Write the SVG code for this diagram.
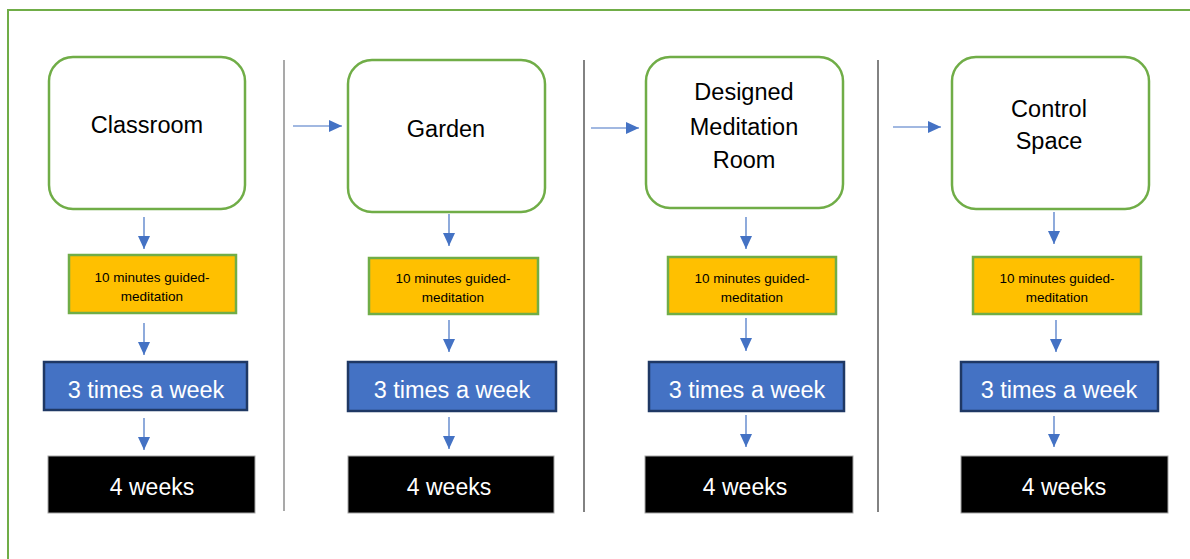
<svg xmlns="http://www.w3.org/2000/svg" width="1190" height="559" viewBox="0 0 1190 559">
<defs>
<marker id="ah" markerUnits="userSpaceOnUse" markerWidth="13" markerHeight="12" refX="13" refY="6" orient="auto">
<path d="M0,0 L13,6 L0,12 Z" fill="#4472C4"/>
</marker>
<style>
.frame{fill:none;stroke:#70AD47;stroke-width:2}
.div{stroke:#8c8c8c;stroke-width:1.5}
.div2{stroke:#595959;stroke-width:1.5}
.loc{fill:#fff;stroke:#70AD47;stroke-width:2.5}
.med{fill:#FFC000;stroke:#70AD47;stroke-width:2.5}
.freq{fill:#4472C4;stroke:#1F3864;stroke-width:2.5}
.dur{fill:#000;stroke:#a6a6a6;stroke-width:1}
.conn{stroke:#4472C4;stroke-width:1.2;fill:none;marker-end:url(#ah)}
text{font-family:"Liberation Sans",Arial,sans-serif;text-anchor:middle}
.t1{font-size:23.5px;fill:#000}
.t2{font-size:13.5px;fill:#000}
.t3{font-size:23.5px;fill:#fff}
.t4{font-size:23px;fill:#fff}
</style>
</defs>
<rect class="frame" x="8" y="10" width="1200" height="600"/>
<g id="dividers">
<line class="div" x1="284" y1="60" x2="284" y2="511"/>
<line class="div2" x1="584" y1="60" x2="584" y2="512"/>
<line class="div2" x1="878" y1="60" x2="878" y2="512"/>
</g>
<g id="connectors">
<line class="conn" x1="293" y1="126" x2="342" y2="126"/>
<line class="conn" x1="591" y1="128" x2="639" y2="128"/>
<line class="conn" x1="893" y1="127" x2="941" y2="127"/>
<line class="conn" x1="144" y1="217" x2="144" y2="249"/>
<line class="conn" x1="144" y1="323" x2="144" y2="355"/>
<line class="conn" x1="144" y1="418" x2="144" y2="450"/>
<line class="conn" x1="449" y1="214" x2="449" y2="246"/>
<line class="conn" x1="449" y1="320" x2="449" y2="352"/>
<line class="conn" x1="449" y1="417" x2="449" y2="449"/>
<line class="conn" x1="746" y1="217" x2="746" y2="249"/>
<line class="conn" x1="746" y1="318" x2="746" y2="351"/>
<line class="conn" x1="746" y1="415" x2="746" y2="447"/>
<line class="conn" x1="1054" y1="212" x2="1054" y2="244"/>
<line class="conn" x1="1056" y1="320" x2="1056" y2="352"/>
<line class="conn" x1="1054" y1="416" x2="1054" y2="447"/>
</g>
<g id="classroom">
<rect class="loc" x="49" y="57" width="196" height="152" rx="24"/>
<text class="t1" x="147" y="133">Classroom</text>
</g>
<g id="med1">
<rect class="med" x="69" y="255" width="167" height="58"/>
<text class="t2" x="152" y="282">10 minutes guided-</text>
<text class="t2" x="152" y="301">meditation</text>
</g>
<g id="freq1">
<rect class="freq" x="44" y="362" width="203" height="48"/>
<text class="t3" x="146" y="398">3 times a week</text>
</g>
<g id="dur1">
<rect class="dur" x="48" y="456" width="207" height="57"/>
<text class="t4" x="152" y="495">4 weeks</text>
</g>
<g id="garden">
<rect class="loc" x="348" y="60" width="197" height="152" rx="24"/>
<text class="t1" x="446" y="137">Garden</text>
</g>
<g id="med2">
<rect class="med" x="369" y="258" width="169" height="56"/>
<text class="t2" x="453" y="283">10 minutes guided-</text>
<text class="t2" x="453" y="302">meditation</text>
</g>
<g id="freq2">
<rect class="freq" x="348" y="362" width="208" height="49"/>
<text class="t3" x="452" y="398">3 times a week</text>
</g>
<g id="dur2">
<rect class="dur" x="348" y="456" width="206" height="57"/>
<text class="t4" x="449" y="495">4 weeks</text>
</g>
<g id="designed">
<rect class="loc" x="646" y="57" width="197" height="151" rx="24"/>
<text class="t1" x="744" y="100">Designed</text>
<text class="t1" x="744" y="135">Meditation</text>
<text class="t1" x="744" y="168">Room</text>
</g>
<g id="med3">
<rect class="med" x="668" y="257" width="168" height="57"/>
<text class="t2" x="752" y="283">10 minutes guided-</text>
<text class="t2" x="752" y="302">meditation</text>
</g>
<g id="freq3">
<rect class="freq" x="649" y="362" width="195" height="49"/>
<text class="t3" x="747" y="398">3 times a week</text>
</g>
<g id="dur3">
<rect class="dur" x="645" y="456" width="208" height="57"/>
<text class="t4" x="745" y="495">4 weeks</text>
</g>
<g id="control">
<rect class="loc" x="952" y="57" width="197" height="152" rx="24"/>
<text class="t1" x="1049" y="117">Control</text>
<text class="t1" x="1049" y="149">Space</text>
</g>
<g id="med4">
<rect class="med" x="973" y="257" width="168" height="57"/>
<text class="t2" x="1057" y="283">10 minutes guided-</text>
<text class="t2" x="1057" y="302">meditation</text>
</g>
<g id="freq4">
<rect class="freq" x="961" y="362" width="197" height="49"/>
<text class="t3" x="1059" y="398">3 times a week</text>
</g>
<g id="dur4">
<rect class="dur" x="961" y="456" width="207" height="57"/>
<text class="t4" x="1064" y="495">4 weeks</text>
</g>
</svg>
